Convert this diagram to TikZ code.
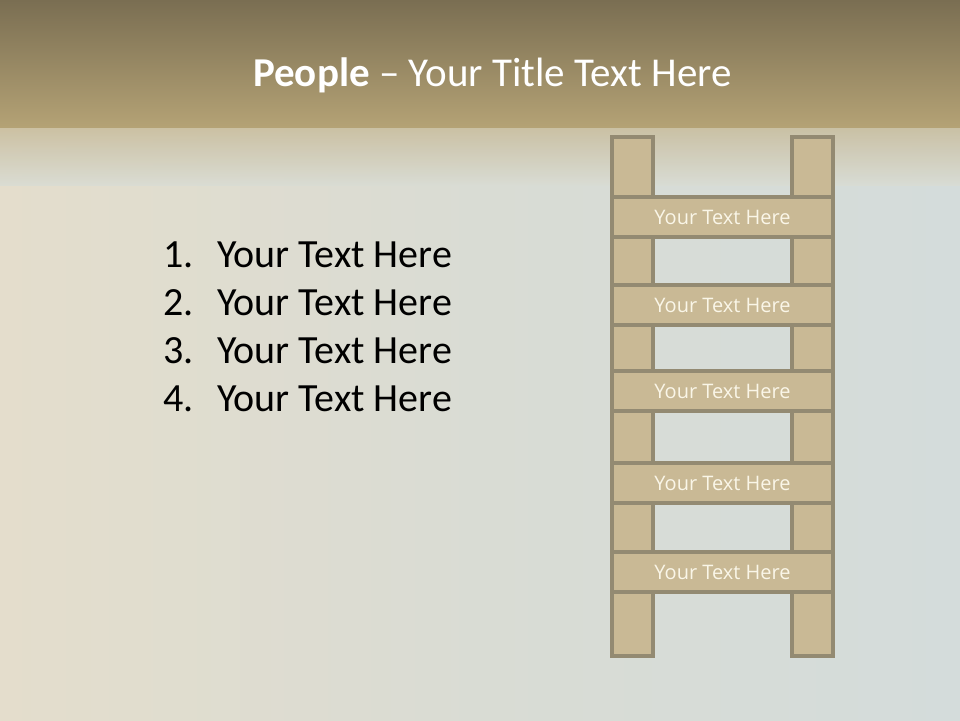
\documentclass[tikz,border=0pt]{standalone}
\usepackage{fontspec}
\setmainfont{Carlito}
\newfontfamily\rungfont{Open Sans}
\usetikzlibrary{positioning,calc}
\definecolor{bandtop}{RGB}{122,110,82}
\definecolor{bandbot}{RGB}{180,162,117}
\definecolor{fadetop}{RGB}{200,188,155}
\definecolor{bodywarm}{RGB}{228,221,204}
\definecolor{bodymid}{RGB}{217,220,212}
\definecolor{bodycool}{RGB}{212,220,219}
\definecolor{woodfill}{RGB}{201,185,149}
\definecolor{woodline}{RGB}{147,138,114}
\definecolor{rungtext}{RGB}{250,246,232}
\begin{document}
\begin{tikzpicture}[x=1pt, y=-1pt,
rail/.style={draw=woodline, line width=3.4pt, fill=woodfill, minimum width=41pt, inner sep=0pt},
rung/.style={draw=woodline, line width=3.4pt, fill=woodfill, minimum width=221pt, minimum height=40pt, inner sep=0pt,
  font=\rungfont\fontsize{20}{22}\selectfont, text=rungtext},
item/.style={anchor=base west, inner sep=0pt, font=\fontsize{40}{44}\selectfont}]
% background
\useasboundingbox (0,0) rectangle (960,720);
\shade[left color=bodywarm, right color=bodycool, middle color=bodymid] (0,127) rectangle (960,720);
\shade[top color=fadetop, bottom color=bodymid, opacity=0.85] (0,127) rectangle (960,185);
\shade[top color=bandtop, bottom color=bandbot] (0,0) rectangle (960,127);
\node[text=white, anchor=base west, inner sep=0pt, font=\fontsize{41}{44}\selectfont] (title) at (253,86) {\textbf{People} -- Your Title Text Here};
% list
\foreach \n [count=\i] in {267,315,363,411}
  \node[item] (num\i) at (163,\n) {\i.};
\foreach \n [count=\i] in {267,315,363,411}
  \node[item] (item\i) at (217,\n) {Your Text Here};
% ladder
\node[rail, minimum height=519pt] (lrail) at (632.5,396.5) {};
\node[rail, minimum height=519pt] (rrail) at (812.5,396.5) {};
\foreach \y [count=\i] in {217,305,391,483,572}
  \node[rung] (rung\i) at (722.5,\y) {Your Text Here};
\end{tikzpicture}
\end{document}
